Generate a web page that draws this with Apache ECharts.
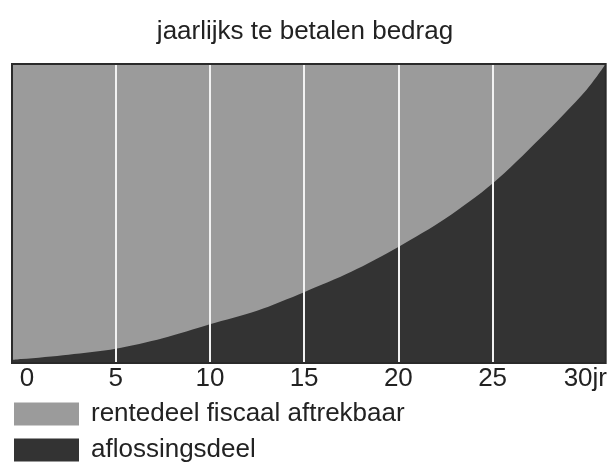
<!DOCTYPE html>
<html>
<head>
<meta charset="utf-8">
<script src="https://cdn.jsdelivr.net/npm/echarts@6/dist/echarts.min.js"></script>
<style>
html,body{margin:0;padding:0;background:#fff;}
#c{width:610px;height:464px;}
</style>
</head>
<body>
<div id="c"></div>
<script>
// jaren (years)
var jaren = [-0.5, 0, 2.5, 5, 7.5, 10, 12.5, 15, 17.5, 20, 22.5, 25, 27.5, 30, 31];
// aflossingsdeel (% of yearly payment)
var aflossing = [1.0, 1.3, 2.8, 4.8, 8.3, 13.0, 17.5, 23.7, 30.5, 38.8, 48.3, 60.0, 75.0, 91.5, 100];
// rentedeel fiscaal aftrekbaar (% of yearly payment)
var rente = [99.0, 98.7, 97.2, 95.2, 91.7, 87.0, 82.5, 76.3, 69.5, 61.2, 51.7, 40.0, 25.0, 8.5, 0];
// tick labels / grid lines
var tickJaren = [0, 5, 10, 15, 20, 25, 30];
var rasterJaren = [5, 10, 15, 20, 25];
var titel = 'jaarlijks te betalen bedrag';
var naamRente = 'rentedeel fiscaal aftrekbaar';
var naamAflossing = 'aflossingsdeel';

var chart = echarts.init(document.getElementById('c'));
var font = '"Liberation Sans", Arial, sans-serif';

function pairs(xs, ys) { return xs.map(function (x, i) { return [x, ys[i]]; }); }
// rentedeel is stacked on top of aflossingsdeel
var renteTop = rente.map(function (r, i) { return r + aflossing[i]; });

chart.setOption({
  animation: false,
  title: {
    text: titel, left: 'center', top: 14,
    textStyle: { fontFamily: font, fontSize: 26, fontWeight: 'normal', color: '#222' }
  },
  legend: {
    orient: 'vertical', left: 14, top: 401, padding: 0, height: 80, width: 500,
    itemWidth: 65, itemHeight: 23, itemGap: 10,
    icon: 'rect',
    textStyle: { fontFamily: font, fontSize: 26, lineHeight: 23, color: '#222', padding: [0, 0, 0, 7] },
    data: [
      { name: naamRente, itemStyle: { color: '#9b9b9b' } },
      { name: naamAflossing, itemStyle: { color: '#333333' } }
    ]
  },
  grid: {
    left: 12, right: 4, top: 64, bottom: 101, show: true, z: 10,
    borderColor: '#2a2a2a', borderWidth: 2, backgroundColor: 'transparent'
  },
  xAxis: {
    type: 'value', min: -0.5, max: 31,
    axisLine: { show: false }, axisTick: { show: false }, splitLine: { show: false },
    axisLabel: {
      customValues: tickJaren, margin: 3,
      fontFamily: font, fontSize: 26, color: '#222',
      formatter: function (v) {
        if (v === 0) return '{l|0}';
        if (v === 30) return '{r|30jr}';
        return String(v);
      },
      rich: {
        l: { fontFamily: font, fontSize: 26, color: '#222', padding: [0, 0, 0, 11] },
        r: { fontFamily: font, fontSize: 26, color: '#222', padding: [0, 3, 0, 0] }
      }
    }
  },
  yAxis: { type: 'value', min: 0, max: 100, show: false, splitLine: { show: false } },
  series: [
    {
      name: naamRente, type: 'line', smooth: 0.3, symbol: 'none',
      lineStyle: { width: 0 }, itemStyle: { color: '#9b9b9b' },
      areaStyle: { color: '#9b9b9b', opacity: 1 },
      data: pairs(jaren, renteTop)
    },
    {
      name: naamAflossing, type: 'line', smooth: 0.3, symbol: 'none',
      lineStyle: { width: 0 }, itemStyle: { color: '#333333' },
      areaStyle: { color: '#333333', opacity: 1 },
      data: pairs(jaren, aflossing),
      markLine: {
        silent: true, symbol: ['none', 'none'], label: { show: false },
        lineStyle: { color: '#f2f2f2', width: 2, type: 'solid' },
        data: rasterJaren.map(function (x) { return { xAxis: x }; })
      }
    }
  ]
});
</script>
</body>
</html>
